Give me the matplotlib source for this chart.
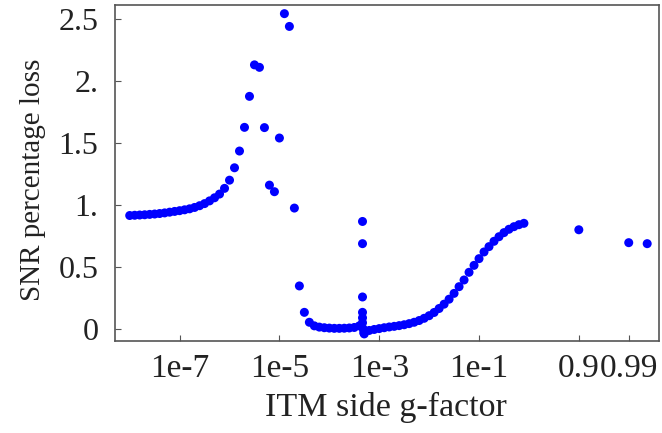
import matplotlib.pyplot as plt

plt.rcParams["font.family"] = ["Liberation Serif", "DejaVu Serif"]
plt.rcParams["font.size"] = 23

# position on the g-factor axis in decades (log10 g below 0.5, -log10(1-g) above)
x_dec = [
    -8.0, -7.9, -7.8, -7.7, -7.6, -7.5, -7.4, -7.3, -7.2, -7.1,
    -7.0, -6.9, -6.8, -6.7, -6.6, -6.5, -6.4, -6.3, -6.2, -6.1,
    -6.0, -5.9, -5.8, -5.7, -5.6, -5.5, -5.4, -5.3, -5.2, -5.1,
    -5.0, -4.9, -4.8, -4.7, -4.6, -4.5, -4.4, -4.3, -4.2, -4.1,
    -4.0, -3.9, -3.8, -3.7, -3.6, -3.5, -3.4,
    -3.335, -3.335, -3.335, -3.335, -3.335, -3.335, -3.32, -3.31, -3.30,
    -3.2, -3.1, -3.0, -2.9, -2.8, -2.7, -2.6, -2.5, -2.4, -2.3,
    -2.2, -2.1, -2.0, -1.9, -1.8, -1.7, -1.6, -1.5, -1.4, -1.3,
    -1.2, -1.1, -1.0, -0.9, -0.8, -0.7, -0.6, -0.5, -0.4, -0.3,
    -0.2, -0.1, 1.0, 2.0, 2.37,
]
snr_loss = [
    0.915, 0.917, 0.919, 0.921, 0.924, 0.927, 0.931, 0.936, 0.942, 0.948,
    0.954, 0.961, 0.969, 0.980, 0.994, 1.011, 1.033, 1.058, 1.088, 1.134,
    1.20, 1.30, 1.435, 1.626, 1.876, 2.13, 2.11, 1.624, 1.16, 1.107,
    1.54, 2.543, 2.44, 0.975, 0.347, 0.134, 0.054, 0.025, 0.015, 0.010,
    0.007, 0.005, 0.005, 0.006, 0.008, 0.012, 0.025,
    0.867, 0.688, 0.258, 0.134, 0.09, 0.05, 0.0, -0.03, -0.04,
    -0.012, -0.004, 0.003, 0.010, 0.016, 0.021, 0.027, 0.034, 0.043, 0.054,
    0.068, 0.086, 0.107, 0.133, 0.165, 0.200, 0.240, 0.287, 0.341, 0.395,
    0.457, 0.513, 0.567, 0.621, 0.664, 0.707, 0.744, 0.777, 0.804, 0.825,
    0.841, 0.852, 0.80, 0.696, 0.688,
]

xtick_pos = [-7, -5, -3, -1, 1, 2]
xtick_labels = ["1e-7", "1e-5", "1e-3", "1e-1", "0.9", "0.99"]
ytick_pos = [0, 0.5, 1, 1.5, 2, 2.5]
ytick_labels = ["0", "0.5", "1.", "1.5", "2.", "2.5"]

fig = plt.figure(figsize=(6.62, 4.33), dpi=100)
ax = fig.add_axes([0.1737, 0.2125, 0.8218, 0.776])

ax.scatter(x_dec, snr_loss, s=42, color="#0000ff", edgecolors="none", zorder=3)

ax.set_xlim(-8.295, 2.607)
ax.set_ylim(-0.097, 2.613)
ax.set_xticks(xtick_pos)
ax.set_xticklabels(xtick_labels)
ax.set_yticks(ytick_pos)
ax.set_yticklabels(ytick_labels)

for side in ax.spines.values():
    side.set_color("#555555")
    side.set_linewidth(1.2)
ax.tick_params(direction="in", length=4, width=0.8, color="#555555",
               labelcolor="#222222")
ax.tick_params(axis="x", pad=9, labelsize=24)
ax.tick_params(axis="y", pad=12)

fig.text(0.05, 0.584, "SNR percentage loss", rotation=90, ha="center",
         va="center", color="#222222", fontsize=21)
fig.text(0.583, 0.06, "ITM side g-factor", ha="center", va="center",
         color="#222222", fontsize=24.5)

fig.savefig("out.png", dpi=100)
